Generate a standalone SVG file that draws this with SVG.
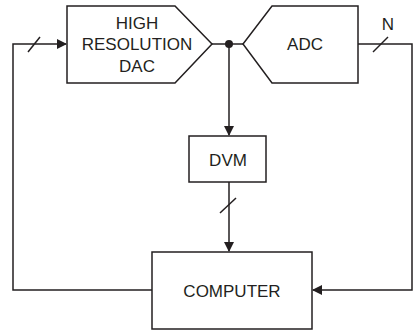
<svg xmlns="http://www.w3.org/2000/svg" width="415" height="330" viewBox="0 0 415 330">
<style>
.b{fill:#fff;stroke:#231f20;stroke-width:1.5}
.w{fill:none;stroke:#231f20;stroke-width:1.5}
.t{font-family:"Liberation Sans",Arial,sans-serif;font-size:17px;fill:#231f20;text-anchor:middle;dominant-baseline:central}
</style>
<defs>
<marker id="a" markerWidth="10" markerHeight="10" refX="9" refY="5" orient="auto" markerUnits="userSpaceOnUse">
<path d="M0,0 L10,5 L0,10 Z" fill="#231f20"/>
</marker>
</defs>
<g id="connectors">
<path class="w" d="M152,290 H13 V44 H66" marker-end="url(#a)"/>
<line class="w" x1="28" y1="52" x2="40" y2="37"/>
<line class="w" x1="212" y1="44" x2="243" y2="44"/>
<circle cx="229" cy="44" r="4" fill="#231f20"/>
<path class="w" d="M229,44 V135" marker-end="url(#a)"/>
<path class="w" d="M229,182 V251" marker-end="url(#a)"/>
<line class="w" x1="220" y1="213" x2="236" y2="198"/>
<path class="w" d="M358,44 H412 V290 H313" marker-end="url(#a)"/>
<line class="w" x1="373" y1="52" x2="388" y2="37"/>
<text class="t" x="388" y="24">N</text>
</g>
<g id="dac">
<path class="b" d="M67,6 H175 L212,44 L175,83 H67 Z"/>
<text class="t" x="137" y="23">HIGH</text>
<text class="t" x="137" y="44">RESOLUTION</text>
<text class="t" x="137" y="66">DAC</text>
</g>
<g id="adc">
<path class="b" d="M272,6 H358 V83 H272 L243,44 Z"/>
<text class="t" x="305" y="44">ADC</text>
</g>
<g id="dvm">
<rect class="b" x="189" y="136" width="77" height="46"/>
<text class="t" x="228" y="160">DVM</text>
</g>
<g id="computer">
<rect class="b" x="152" y="252" width="160" height="77"/>
<text class="t" x="232" y="291">COMPUTER</text>
</g>
</svg>
